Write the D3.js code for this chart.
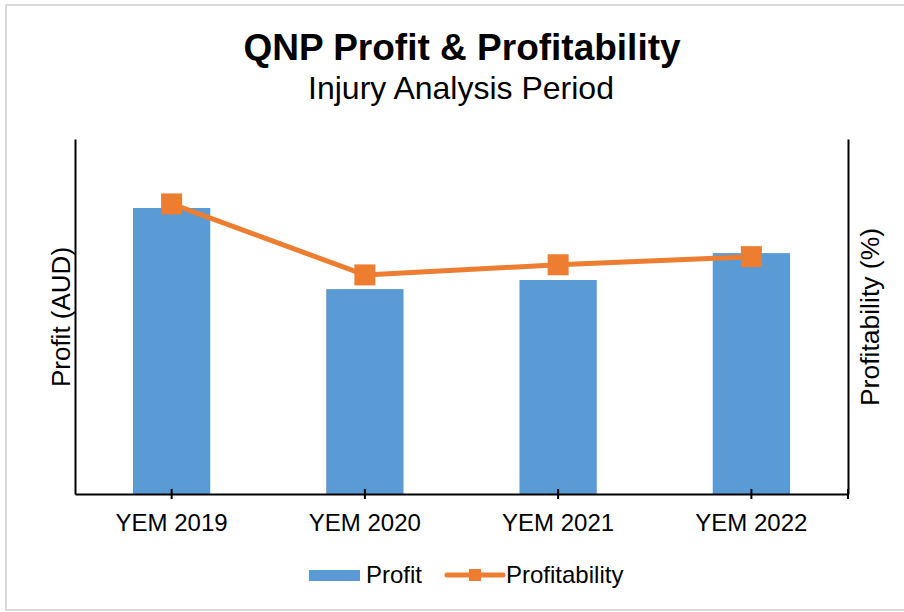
<!DOCTYPE html>
<html lang="en">
  <head>
    <meta charset="UTF-8" />
    <title>QNP Profit &amp; Profitability</title>
    <script src="https://d3js.org/d3.v7.min.js"></script>
    <style>
      body {
        margin: 0;
        background: #fff;
      }
      svg text {
        font-family: "Liberation Sans", Arial, sans-serif;
        fill: #000;
      }
    </style>
  </head>
  <body>
    <script>
      // chart values (profit has no printed scale)
      const years = ["YEM 2019", "YEM 2020", "YEM 2021", "YEM 2022"];
      const profit = [564000, 404000, 422000, 475000];
      const profitability = [28.6, 21.6, 22.6, 23.4];

      const width = 904,
        height = 612;
      const plot = { left: 75, right: 848, top: 139, bottom: 494 };

      const svg = d3
        .select("body")
        .append("svg")
        .attr("width", width)
        .attr("height", height);

      // outer chart border
      svg
        .append("rect")
        .attr("x", 6)
        .attr("y", 5)
        .attr("width", 920)
        .attr("height", 605)
        .attr("fill", "#fff")
        .attr("stroke", "#d9d9d9")
        .attr("stroke-width", 2);

      const x = d3
        .scaleBand()
        .domain(years)
        .range([plot.left, plot.right])
        .paddingInner(0.6)
        .paddingOuter(0.3);

      const yLeft = d3
        .scaleLinear()
        .domain([0, 700000])
        .range([plot.bottom, plot.top]);

      const yRight = d3
        .scaleLinear()
        .domain([0, 35])
        .range([plot.bottom, plot.top]);

      // bars
      svg
        .append("g")
        .selectAll("rect")
        .data(years)
        .join("rect")
        .attr("x", (d) => x(d))
        .attr("y", (d, i) => yLeft(profit[i]))
        .attr("width", x.bandwidth())
        .attr("height", (d, i) => plot.bottom - yLeft(profit[i]))
        .attr("fill", "#5b9bd5");

      // axes
      const axisLeft = svg
        .append("g")
        .attr("transform", `translate(${plot.left},0)`)
        .call(d3.axisLeft(yLeft).ticks(0).tickSizeOuter(0));
      const axisRight = svg
        .append("g")
        .attr("transform", `translate(${plot.right},0)`)
        .call(d3.axisRight(yRight).ticks(0).tickSizeOuter(0));
      const axisBottom = svg
        .append("g")
        .attr("transform", `translate(0,${plot.bottom})`)
        .call(d3.axisBottom(x).tickSize(0).tickSizeOuter(0).tickPadding(20));

      [axisLeft, axisRight, axisBottom].forEach((g) => {
        g.select(".domain").attr("stroke", "#000").attr("stroke-width", 2);
      });
      axisBottom
        .selectAll("text")
        .attr("font-size", 24)
        .attr("dy", "0.71em")
        .style("font-family", "'Liberation Sans', Arial, sans-serif");

      // cross ticks at category centres and at the right end
      const tickXs = years.map((d) => x(d) + x.bandwidth() / 2).concat([plot.right]);
      svg
        .append("g")
        .selectAll("line")
        .data(tickXs)
        .join("line")
        .attr("x1", (d) => d)
        .attr("x2", (d) => d)
        .attr("y1", plot.bottom - 5)
        .attr("y2", plot.bottom + 5)
        .attr("stroke", "#000")
        .attr("stroke-width", 2);

      // profitability line
      const cx = (i) => x(years[i]) + x.bandwidth() / 2;
      const line = d3
        .line()
        .x((d, i) => cx(i))
        .y((d) => yRight(d));

      svg
        .append("path")
        .datum(profitability)
        .attr("d", line)
        .attr("fill", "none")
        .attr("stroke", "#ed7d31")
        .attr("stroke-width", 5)
        .attr("stroke-linejoin", "round");

      const mk = 21;
      svg
        .append("g")
        .selectAll("rect")
        .data(profitability)
        .join("rect")
        .attr("x", (d, i) => cx(i) - mk / 2)
        .attr("y", (d) => yRight(d) - mk / 2)
        .attr("width", mk)
        .attr("height", mk)
        .attr("fill", "#ed7d31");

      // titles
      svg
        .append("text")
        .attr("x", 462)
        .attr("y", 60)
        .attr("text-anchor", "middle")
        .attr("font-size", 37)
        .attr("font-weight", "bold")
        .text("QNP Profit & Profitability");
      svg
        .append("text")
        .attr("x", 461)
        .attr("y", 99)
        .attr("text-anchor", "middle")
        .attr("font-size", 32)
        .text("Injury Analysis Period");

      svg
        .append("text")
        .attr("transform", "translate(70,317) rotate(-90)")
        .attr("text-anchor", "middle")
        .attr("font-size", 26)
        .text("Profit (AUD)");
      svg
        .append("text")
        .attr("transform", "translate(879,317) rotate(-90)")
        .attr("text-anchor", "middle")
        .attr("font-size", 26.5)
        .text("Profitability (%)");

      // legend
      const legend = svg.append("g").attr("transform", "translate(0,575)");
      legend
        .append("rect")
        .attr("x", 309)
        .attr("y", -5)
        .attr("width", 51)
        .attr("height", 11)
        .attr("fill", "#5b9bd5");
      legend
        .append("text")
        .attr("x", 366)
        .attr("y", 8)
        .attr("font-size", 24)
        .text("Profit");
      legend
        .append("line")
        .attr("x1", 447)
        .attr("x2", 503)
        .attr("stroke", "#ed7d31")
        .attr("stroke-width", 5)
        .attr("stroke-linecap", "round");
      legend
        .append("rect")
        .attr("x", 469)
        .attr("y", -6)
        .attr("width", 12)
        .attr("height", 12)
        .attr("fill", "#ed7d31");
      legend
        .append("text")
        .attr("x", 506)
        .attr("y", 8)
        .attr("font-size", 24)
        .text("Profitability");
    </script>
  </body>
</html>
